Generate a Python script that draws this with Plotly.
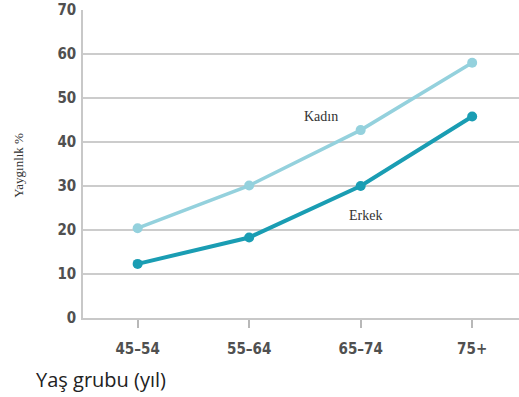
import plotly.graph_objects as go

age_groups = ["45–54", "55–64", "65–74", "75+"]
women = [20.4, 30.1, 42.7, 58.0]
men = [12.3, 18.3, 30.0, 45.8]
y_ticks = [0, 10, 20, 30, 40, 50, 60, 70]

x_idx = list(range(len(age_groups)))

fig = go.Figure()
fig.add_trace(go.Scatter(
    x=x_idx, y=women, mode="lines+markers", name="Kadın",
    line=dict(color="#94d1dd", width=3.5),
    marker=dict(color="#94d1dd", size=10),
))
fig.add_trace(go.Scatter(
    x=x_idx, y=men, mode="lines+markers", name="Erkek",
    line=dict(color="#1a9db3", width=4),
    marker=dict(color="#1a9db3", size=10),
))

serif = "Liberation Serif, DejaVu Serif, serif"
fig.add_annotation(x=1.647, y=45.9, text="Kadın", showarrow=False,
                   font=dict(family=serif, size=14, color="#333333"))
fig.add_annotation(x=2.042, y=23.4, text="Erkek", showarrow=False,
                   font=dict(family=serif, size=14, color="#333333"))
fig.add_annotation(xref="paper", yref="paper", x=-0.147, y=0.497, text="Yaygınlık %",
                   textangle=-90, showarrow=False, xanchor="center", yanchor="middle",
                   font=dict(family=serif, size=13, color="#333333"))
fig.add_annotation(xref="paper", yref="paper", x=-0.112, y=-0.201, text="Yaş grubu (yıl)",
                   showarrow=False, xanchor="left", yanchor="middle",
                   font=dict(family="Open Sans, sans-serif", size=20, color="#222222"))

tick_font = dict(family="DejaVu Sans Condensed, Liberation Sans Narrow, sans-serif",
                 size=15, color="#505050", weight="bold")

fig.update_layout(
    width=519, height=397,
    margin=dict(l=83, r=0, t=10, b=79),
    paper_bgcolor="white", plot_bgcolor="white",
    showlegend=False,
    xaxis=dict(
        range=[-0.49, 3.42], tickvals=x_idx, ticktext=age_groups,
        showgrid=False, zeroline=False,
        showline=True, linecolor="#c8c8c8", linewidth=1.5,
        ticks="outside", ticklen=8, tickcolor="#b8b8b8", tickwidth=1.5,
        ticklabelstandoff=8,
        tickfont=tick_font,
    ),
    yaxis=dict(
        range=[0, 70], tickvals=y_ticks,
        showgrid=True, gridcolor="#cccccc", gridwidth=1.5,
        zeroline=False,
        showline=True, linecolor="#c8c8c8", linewidth=1.5,
        ticks="", ticklabelstandoff=2,
        tickfont=tick_font,
    ),
)

fig.write_html("out.html")
